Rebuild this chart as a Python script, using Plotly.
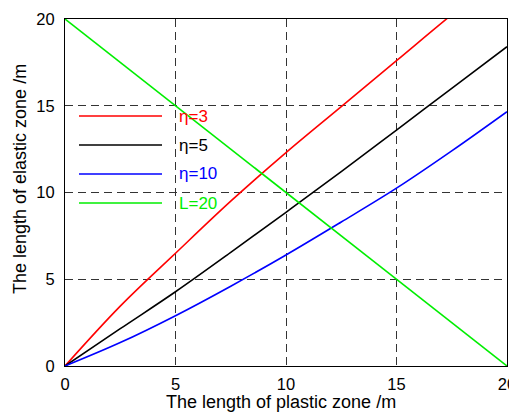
import plotly.graph_objects as go

# ---- data ----
x_plastic = [0, 2.5, 5, 7.5, 10, 12.5, 15, 17.5, 20]
eta3 = [0, 3.45, 6.5, 9.5, 12.3, 14.95, 17.6, 20.25, 22.8]
eta5 = [0, 2.15, 4.28, 6.55, 8.86, 11.2, 13.6, 16.0, 18.4]
eta10 = [0, 1.35, 2.9, 4.6, 6.4, 8.3, 10.25, 12.4, 14.66]
L_x = [0, 20]
L20 = [20, 0]

series_names = ["η=3", "η=5", "η=10", "L=20"]
series_colors = ["#ff0000", "#000000", "#0000ff", "#00ee00"]
tick_vals = [0, 5, 10, 15, 20]

# page has an 8px body margin; figure is sized/offset to compensate
OFF = 8
FW, FH = 517 - OFF, 412 - OFF
L, R, T, B = 65 - OFF, 10, 19 - OFF, 46
W, H = FW - L - R, FH - T - B

fig = go.Figure()
xs = [x_plastic, x_plastic, x_plastic, L_x]
ys = [eta3, eta5, eta10, L20]
for name, color, xv, yv in zip(series_names, series_colors, xs, ys):
    fig.add_trace(go.Scatter(x=xv, y=yv, mode="lines", name=name,
                             line=dict(color=color, width=1.6,
                                       shape="spline", smoothing=1.0),
                             showlegend=False))


def px_to_paper_y(py):
    return (FH - B - (py - OFF)) / H


def px_to_paper_x(px):
    return ((px - OFF) - L) / W


# manual legend (MATLAB style, no box)
leg_y_px = [116, 145, 174, 203]
for name, color, py in zip(series_names, series_colors, leg_y_px):
    yp = px_to_paper_y(py)
    fig.add_shape(type="line", xref="paper", yref="paper",
                  x0=px_to_paper_x(79), x1=px_to_paper_x(162), y0=yp, y1=yp,
                  line=dict(color=color, width=1.6))
    fig.add_annotation(xref="paper", yref="paper", x=px_to_paper_x(177), y=yp,
                       text=name, showarrow=False, xanchor="left",
                       yanchor="middle",
                       font=dict(color=color, size=17,
                                 family="Liberation Sans, Arial"))

# axis titles
fig.add_annotation(xref="paper", yref="paper", x=px_to_paper_x(281),
                   y=px_to_paper_y(402), text="The length of plastic zone /m",
                   showarrow=False, xanchor="center", yanchor="middle",
                   font=dict(size=18, color="black"))
fig.add_annotation(xref="paper", yref="paper", x=px_to_paper_x(20),
                   y=px_to_paper_y(179), text="The length of elastic zone /m",
                   showarrow=False, xanchor="center", yanchor="middle",
                   textangle=-90, font=dict(size=18, color="black"))

axis_common = dict(
    range=[0, 20], tickvals=tick_vals, showgrid=True,
    gridcolor="#333333", griddash="8px,5px", gridwidth=1,
    zeroline=False, showline=True, mirror=True, linecolor="black",
    linewidth=1, ticks="", tickfont=dict(size=16.5, color="black"),
    automargin=False,
)
fig.update_xaxes(**axis_common, ticklabelstandoff=3)
fig.update_yaxes(**axis_common, ticklabelstandoff=6)

fig.update_layout(
    width=FW, height=FH,
    margin=dict(l=L, r=R, t=T, b=B),
    paper_bgcolor="white", plot_bgcolor="white",
    font=dict(family="Liberation Sans, Arial", color="black"),
)
fig.write_html("out.html")
